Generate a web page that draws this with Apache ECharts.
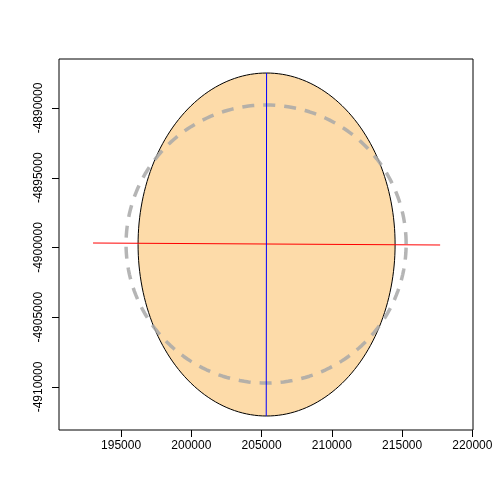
<!DOCTYPE html>
<html><head><meta charset="utf-8">
<script src="https://cdn.jsdelivr.net/npm/echarts@6/dist/echarts.min.js"></script>
<style>html,body{margin:0;padding:0;background:#fff}#c{width:504px;height:504px}</style>
</head><body><div id="c"></div>
<script>
const xTicks = [195000, 200000, 205000, 210000, 215000, 220000];
const yTicks = [-4910000, -4905000, -4900000, -4895000, -4890000];
// ellipse: [cx, cy, semiX, semiY]
const ellipse = [205355, -4899785, 9145, 12294];
// dashed circle: [cx, cy, r]
const circle = [205320, -4899749, 9965];
const redLine = [[193006, -4899677], [217705, -4899821]];
const blueLine = [[205355, -4887491], [205330, -4912079]];

function ring(cx, cy, a, b, n) {
  const pts = [];
  for (let i = 0; i <= n; i++) { const t = 2 * Math.PI * i / n; pts.push([cx + a * Math.cos(t), cy + b * Math.sin(t)]); }
  return pts;
}
const ellPts = ring(ellipse[0], ellipse[1], ellipse[2], ellipse[3], 200);
const cirPts = ring(circle[0], circle[1], circle[2], circle[2], 200);

const chart = echarts.init(document.getElementById('c'));
const font = {fontFamily: 'Liberation Sans, Arial', fontSize: 12, color: '#000'};
chart.setOption({
  animation: false,
  grid: {left: 59, right: 31, top: 59, bottom: 74, show: true, borderColor: '#000', borderWidth: 1, backgroundColor: 'transparent'},
  xAxis: {type: 'value', min: 190584, max: 220043, splitLine: {show: false}, axisLine: {show: false},
    axisTick: {show: true, length: 7, inside: false, customValues: xTicks, lineStyle: {color: '#000'}},
    axisLabel: Object.assign({customValues: xTicks, margin: 10, formatter: v => String(v)}, font)},
  yAxis: {type: 'value', min: -4913082, max: -4886487, splitLine: {show: false}, axisLine: {show: false},
    axisTick: {show: true, length: 7, customValues: yTicks, lineStyle: {color: '#000'}},
    axisLabel: Object.assign({customValues: yTicks, rotate: 90, margin: 14, formatter: v => String(v)}, font)},
  series: [
    {type: 'custom', renderItem: (p, api) => ({type: 'polygon', shape: {points: ellPts.map(q => api.coord(q))},
      style: {fill: '#FDDBA9', stroke: '#000', lineWidth: 1}}), data: [0], silent: true},
    {type: 'line', data: cirPts, showSymbol: false, lineStyle: {color: '#A8A8A8', width: 3.5, type: [12, 9], opacity: 0.85}, z: 3},
    {type: 'line', data: redLine, showSymbol: false, lineStyle: {color: '#FF0000', width: 1}, z: 4},
    {type: 'line', data: blueLine, showSymbol: false, lineStyle: {color: '#0000FF', width: 1}, z: 4}
  ]
});
</script></body></html>
